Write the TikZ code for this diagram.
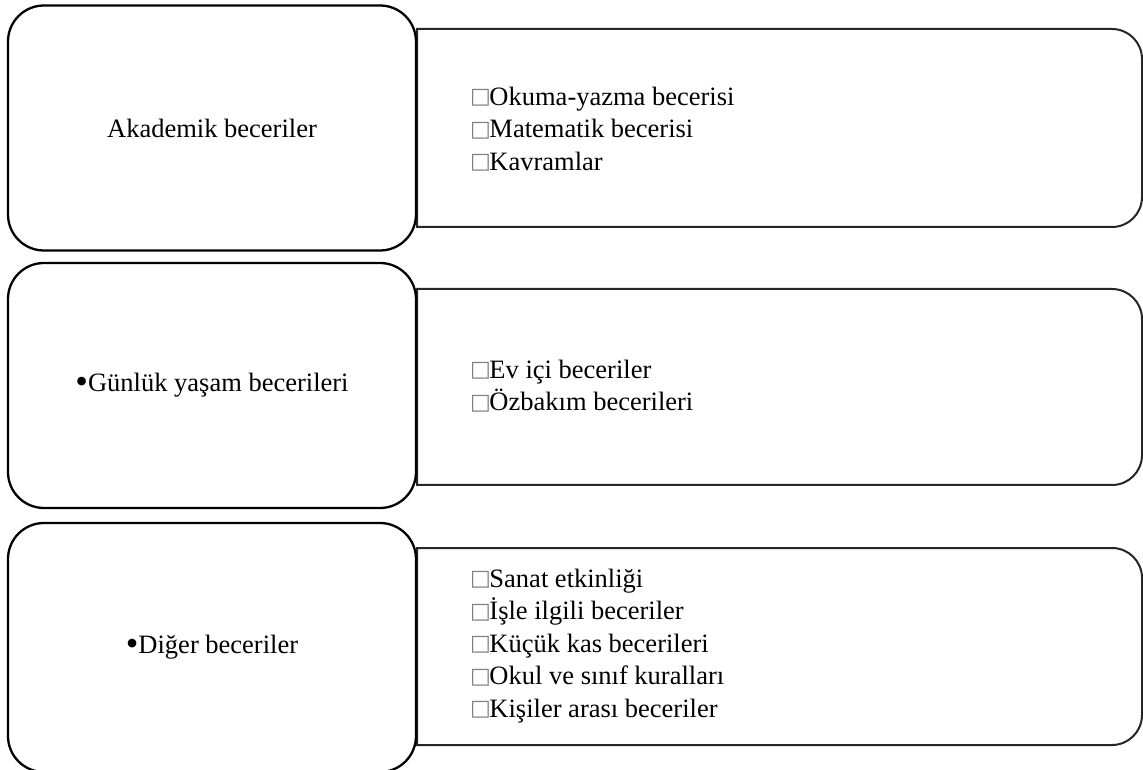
\documentclass[tikz,border=0pt]{standalone}
\usepackage{fontspec}
\setmainfont{Liberation Serif}
\newfontfamily\symfont{DejaVu Sans}
\newcommand{\tofu}{\raisebox{1.5pt}{\symfont\fontsize{22}{22}\selectfont\textcolor{black!50}{□}}\hspace{-1.5pt}}
\newcommand{\bigbullet}{\raisebox{-2pt}{\fontsize{36}{32}\selectfont •}}
\tikzset{
  leftbox/.style={draw=black, line width=2.3pt, rounded corners=36pt, minimum width=408pt, minimum height=245pt, inner sep=0pt, font=\fontsize{26.5}{32}\selectfont, align=center},
  rightbox/.style={draw=black!85, line width=2pt},
  itemtext/.style={anchor=west, inner sep=0pt, align=left, font=\fontsize{26.5}{32.5}\selectfont}
}
\begin{document}
\begin{tikzpicture}[x=1pt,y=1pt]
\useasboundingbox (0,0) rectangle (1143,769);
% right boxes (square left corners, rounded right corners)
\draw[rightbox] (417,740) -- (1112,740) arc[start angle=90,end angle=0,radius=30] -- (1142,572) arc[start angle=0,end angle=-90,radius=30] -- (417,542) -- cycle;
\draw[rightbox] (417,480) -- (1112,480) arc[start angle=90,end angle=0,radius=30] -- (1142,314) arc[start angle=0,end angle=-90,radius=30] -- (417,284) -- cycle;
\draw[rightbox] (417,221) -- (1112,221) arc[start angle=90,end angle=0,radius=30] -- (1142,54) arc[start angle=0,end angle=-90,radius=30] -- (417,24) -- cycle;
% left boxes
\node[leftbox] (l1) at (212,641) {Akademik beceriler};
\node[leftbox] (l2) at (212,383.5) {\bigbullet Günlük yaşam becerileri};
\node[leftbox, minimum height=249pt] (l3) at (212,121.5) {\bigbullet Diğer beceriler};
% item lists
\node[itemtext] (r1) at (470,640) {\tofu Okuma-yazma becerisi\\\tofu Matematik becerisi\\\tofu Kavramlar};
\node[itemtext] (r2) at (470,383) {\tofu Ev içi beceriler\\\tofu Özbakım becerileri};
\node[itemtext] (r3) at (470,123) {\tofu Sanat etkinliği\\\tofu İşle ilgili beceriler\\\tofu Küçük kas becerileri\\\tofu Okul ve sınıf kuralları\\\tofu Kişiler arası beceriler};
\end{tikzpicture}
\end{document}
